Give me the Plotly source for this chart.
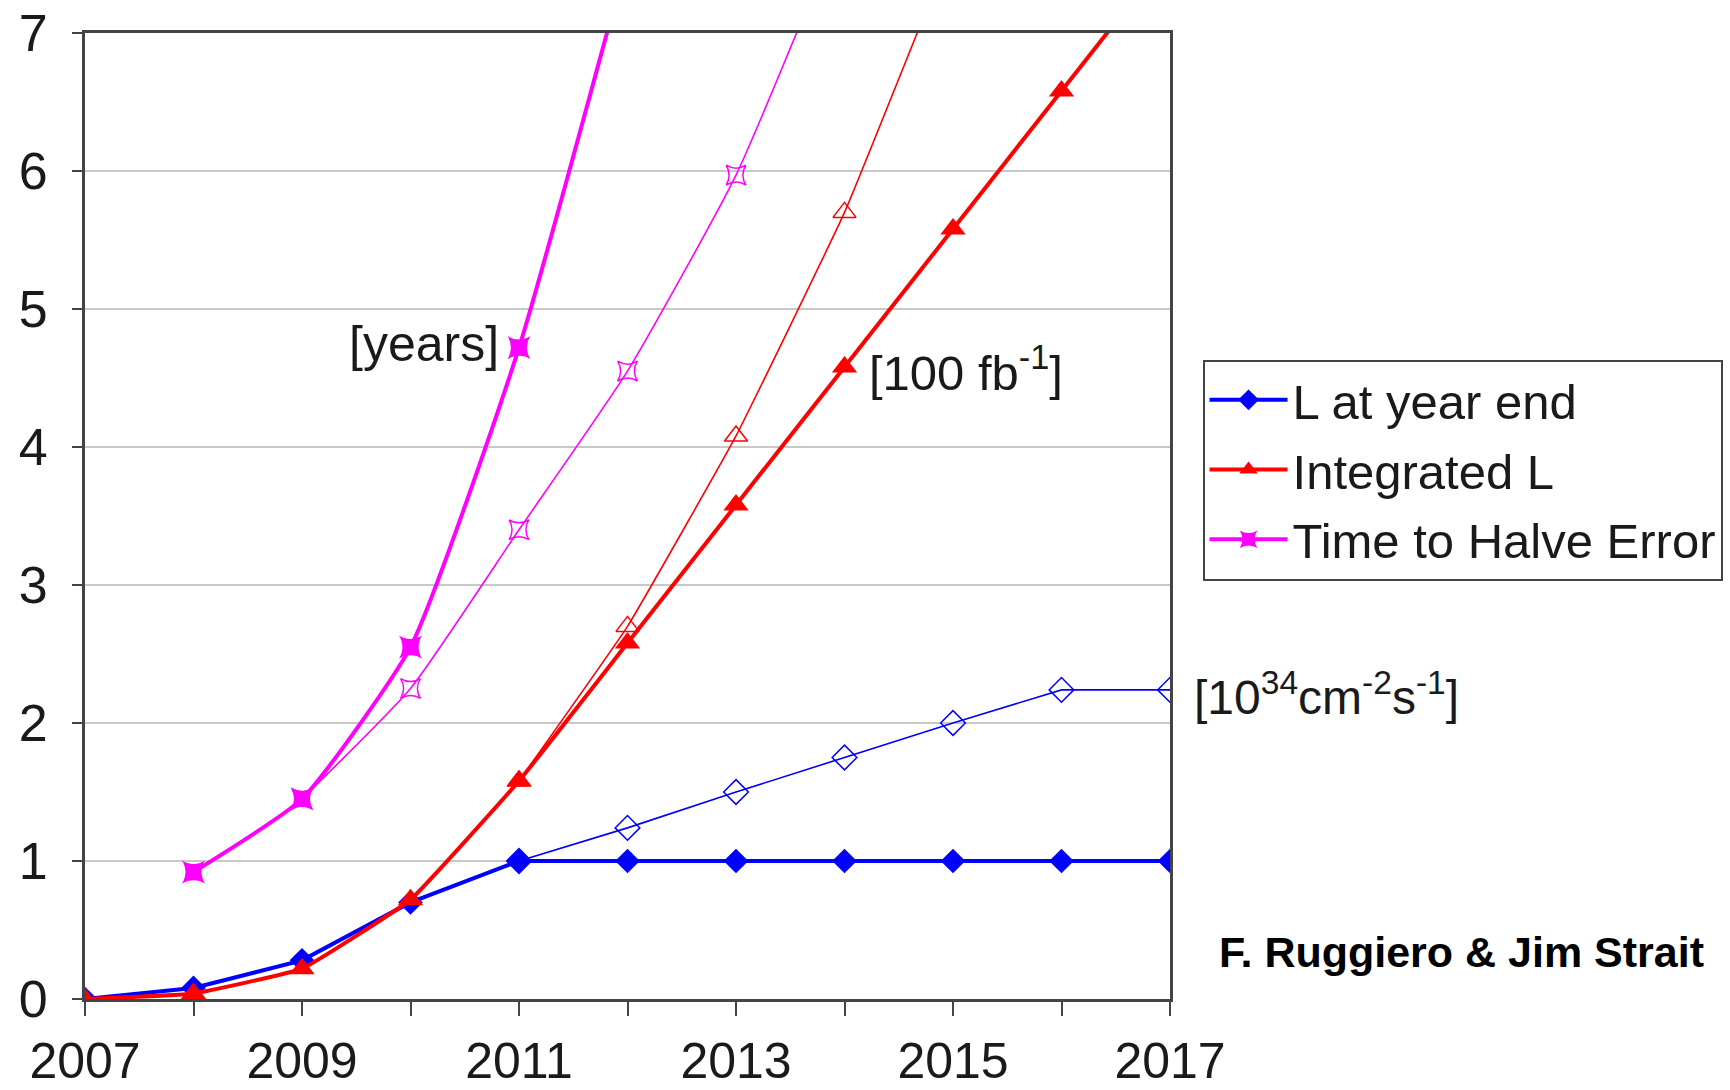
import plotly.graph_objects as go

years = list(range(2007, 2018))

# L at year end (thick, filled diamonds)
lum_year_end = [0.0, 0.08, 0.28, 0.70, 1.0, 1.0, 1.0, 1.0, 1.0, 1.0, 1.0]
# Upgrade scenario for L (thin, open diamonds)
lum_up_years = [2011, 2012, 2013, 2014, 2015, 2016, 2017]
lum_up = [1.0, 1.24, 1.50, 1.75, 2.0, 2.24, 2.24]

# Integrated L (thick, filled triangles)
int_lum = [0.0, 0.04, 0.22, 0.72, 1.58, 2.58, 3.58, 4.58, 5.58, 6.58, 7.58]
# Integrated L upgrade (thin, open triangles)
int_up_years = [2011, 2012, 2013, 2014, 2015]
int_up = [1.58, 2.70, 4.08, 5.70, 7.65]

# Time to halve error (thick, filled)
halve_years = [2008, 2009, 2010, 2011, 2012]
halve = [0.92, 1.45, 2.55, 4.72, 7.55]
# Time to halve error upgrade (thin, open)
halve_up_years = [2009, 2010, 2011, 2012, 2013, 2014]
halve_up = [1.45, 2.25, 3.40, 4.55, 5.97, 7.85]

x_tick_vals = years
x_tick_text = ["2007", "", "2009", "", "2011", "", "2013", "", "2015", "", "2017"]
y_tick_vals = [0, 1, 2, 3, 4, 5, 6, 7]

BLUE = "#0000ff"
RED = "#ff0000"
MAG = "#ff00ff"
FONT = "Liberation Sans, Arial, sans-serif"

fig = go.Figure()

# thin upgrade curves first (behind)
fig.add_trace(go.Scatter(
    x=halve_up_years, y=halve_up, mode="lines+markers", showlegend=False,
    line=dict(color=MAG, width=1.6, shape="spline", smoothing=0.5),
    marker=dict(symbol="star-square-open", size=18, color=MAG, line=dict(width=1.5, color=MAG)),
))
fig.add_trace(go.Scatter(
    x=int_up_years, y=int_up, mode="lines+markers", showlegend=False,
    line=dict(color=RED, width=1.6, shape="spline", smoothing=0.3),
    marker=dict(symbol="triangle-up-open", size=20, color=RED, line=dict(width=1.5, color=RED)),
))
fig.add_trace(go.Scatter(
    x=lum_up_years, y=lum_up, mode="lines+markers", showlegend=False,
    line=dict(color=BLUE, width=1.6),
    marker=dict(symbol="diamond-open", size=19, color=BLUE, line=dict(width=1.5, color=BLUE)),
))

# main curves
fig.add_trace(go.Scatter(
    x=years, y=lum_year_end, mode="lines+markers", name="L at year end", legendgroup="a",
    line=dict(color=BLUE, width=4),
    marker=dict(symbol="diamond", size=19, color=BLUE),
))
fig.add_trace(go.Scatter(
    x=years, y=int_lum, mode="lines+markers", name="Integrated L", legendgroup="b",
    line=dict(color=RED, width=4, shape="spline", smoothing=0.3),
    marker=dict(symbol="triangle-up", size=22, color=RED),
))
fig.add_trace(go.Scatter(
    x=halve_years, y=halve, mode="lines+markers", name="Time to Halve Error", legendgroup="c",
    line=dict(color=MAG, width=4, shape="spline", smoothing=0.5),
    marker=dict(symbol="star-square", size=21, color=MAG),
))

annotations = [
    dict(x=2011, y=4.72, xref="x", yref="y", text="[years]", showarrow=False,
         xanchor="right", xshift=-18, yshift=4, font=dict(size=50, color="#1a1a1a", family=FONT)),
    dict(x=2014, y=4.55, xref="x", yref="y", text="[100 fb<sup>-1</sup>]", showarrow=False,
         xanchor="left", xshift=22, yshift=2, font=dict(size=49, color="#1a1a1a", family=FONT)),
    dict(x=2017, y=2.24, xref="x", yref="y", text="[10<sup>34</sup>cm<sup>-2</sup>s<sup>-1</sup>]",
         showarrow=False, xanchor="left", xshift=22, yshift=-4,
         font=dict(size=48, color="#1a1a1a", family=FONT)),
    dict(x=1.043, y=0.344, xref="paper", yref="y", text="<b>F. Ruggiero &amp; Jim Strait</b>",
         showarrow=False, xanchor="left", yanchor="middle",
         font=dict(size=43, color="#000000", family=FONT)),
]

fig.update_layout(
    width=1730, height=1090,
    margin=dict(l=85, r=560, t=33, b=91, pad=0, autoexpand=False),
    paper_bgcolor="white", plot_bgcolor="white",
    font=dict(family=FONT, color="#1a1a1a"),
    showlegend=True,
    legend=dict(
        x=1.030, y=0.662, xanchor="left", yanchor="top",
        bgcolor="white", bordercolor="#444444", borderwidth=2,
        font=dict(size=49, color="#1a1a1a", family=FONT),
        itemsizing="trace", tracegroupgap=3, itemwidth=78,
    ),
    annotations=annotations,
)

fig.update_xaxes(
    range=[2007, 2017], tickmode="array", tickvals=x_tick_vals, ticktext=x_tick_text,
    showgrid=False, zeroline=False, automargin=False,
    showline=True, linecolor="#444444", linewidth=3, mirror=True,
    ticks="outside", ticklen=14, tickwidth=2, tickcolor="#444444",
    ticklabelstandoff=2,
    tickfont=dict(size=50, color="#1a1a1a", family=FONT),
)
fig.update_yaxes(
    range=[0, 7], tickmode="array", tickvals=y_tick_vals,
    showgrid=True, gridcolor="#c8c8c8", gridwidth=2, zeroline=False, automargin=False,
    showline=True, linecolor="#444444", linewidth=3, mirror=True,
    ticks="outside", ticklen=10, tickwidth=2, tickcolor="#444444",
    ticklabelstandoff=14,
    tickfont=dict(size=52, color="#1a1a1a", family=FONT),
)

fig.write_html("out.html")
